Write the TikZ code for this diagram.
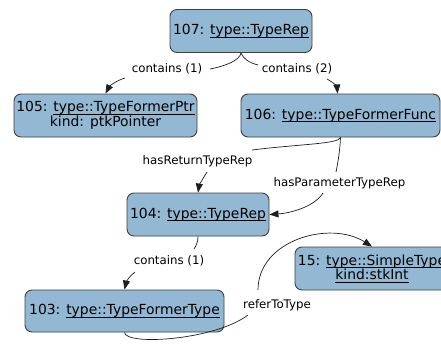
\documentclass[tikz,border=0pt]{standalone}
\usepackage{fontspec}
\setmainfont{DejaVu Sans}
\usetikzlibrary{arrows.meta}
\definecolor{boxfill}{RGB}{147,184,211}
\definecolor{boxline}{RGB}{64,64,64}
\definecolor{edgeline}{RGB}{30,30,30}
% underline set close to the baseline, crossing the descenders
\newcommand\typeul[1]{\setbox0\hbox{#1}\rlap{\rule[-2.6pt]{\wd0}{0.8pt}}\box0}
\tikzset{
  entity/.style={draw=boxline, line width=0.9pt, fill=boxfill, rounded corners=7pt,
    inner sep=1pt, align=center, font=\fontsize{13.9}{14.5}\selectfont},
  rel/.style={inner sep=0pt, font=\fontsize{11.8}{14}\selectfont},
  link/.style={draw=edgeline, line width=0.7pt},
  arr/.style={link, -{Triangle[length=9pt,width=7pt]}},
}
\begin{document}
\begin{tikzpicture}[x=1pt,y=-1pt]
\useasboundingbox (0,0) rectangle (441,343);
\clip (0,0) rectangle (441,343);

% entities
\node[entity, minimum width=142pt, minimum height=43pt] (n107) at (241,31)
  {107: \typeul{type::TypeRep}};
\node[entity, minimum width=183pt, minimum height=43pt] (n105) at (105.5,115.5)
  {105: \typeul{type::TypeFormerPtr}\\kind: ptkPointer};
\node[entity, minimum width=199pt, minimum height=43pt] (n106) at (340.5,115.5)
  {106: \typeul{type::TypeFormerFunc}};
\node[entity, minimum width=142pt, minimum height=43pt] (n104) at (198,214.5)
  {104: \typeul{type::TypeRep}};
\node[entity, minimum width=199pt, minimum height=42pt] (n103) at (124.5,311)
  {103: \typeul{type::TypeFormerType}};
\node[entity, minimum width=154pt, minimum height=43pt] (n15) at (372,268.5)
  {15: \typeul{type::SimpleType}\\\typeul{kind:stkInt}};

% relation labels
\node[rel] (l1) at (167,69) {contains (1)};
\node[rel] (l2) at (297,69) {contains (2)};
\node[rel] (l3) at (197.5,161) {hasReturnTypeRep};
\node[rel] (l4) at (339.5,183) {hasParameterTypeRep};
\node[rel] (l5) at (169,261) {contains (1)};
\node[rel] (l6) at (277,305) {referToType};

% break points of the connectors beside their labels
\coordinate (c1a) at (210,69);
\coordinate (c1b) at (125,78);
\coordinate (c2a) at (258,65);
\coordinate (c2b) at (327,79);
\coordinate (c3a) at (252,150);
\coordinate (c3b) at (207,172);
\coordinate (c4a) at (336,172);
\coordinate (c4b) at (323,193);
\coordinate (c5a) at (194,249);
\coordinate (c5b) at (135,272);
\coordinate (c6a) at (248,315);
\coordinate (c6b) at (258,290);

% 107 -> 105
\draw[link] (n107.south) .. controls (240,60) and (226,66) .. (c1a);
\draw[arr] (c1b) .. controls (115,81) and (109,87) .. (n105.north);
% 107 -> 106
\draw[link] (n107.south) .. controls (243,59) and (250,63) .. (c2a);
\draw[arr] (c2b) .. controls (333,82) and (337,87) .. ([xshift=-3pt]n106.north);
% 106 -> 104 (return type)
\draw[link] (n106.south) .. controls (339,144) and (300,144) .. (c3a);
\draw[arr] (c3b) .. controls (203,178) and (199,186) .. (n104.north);
% 106 -> 104 (parameter type)
\draw[link] (n106.south) .. controls (340,150) and (338,162) .. (c4a);
\draw[arr] (c4b) .. controls (315,206) and (292,213) .. (n104.east);
% 104 -> 103
\draw[link] (n104.south) .. controls (198,242) and (196,246) .. (c5a);
\draw[arr] (c5b) .. controls (129,276) and (126,283) .. (n103.north);
% 103 -> 15
\draw[link] (n103.south) .. controls (126,346) and (215,340) .. (c6a);
\draw[arr] (c6b) .. controls (258,240) and (330,220) .. (n15.north);
\end{tikzpicture}
\end{document}
